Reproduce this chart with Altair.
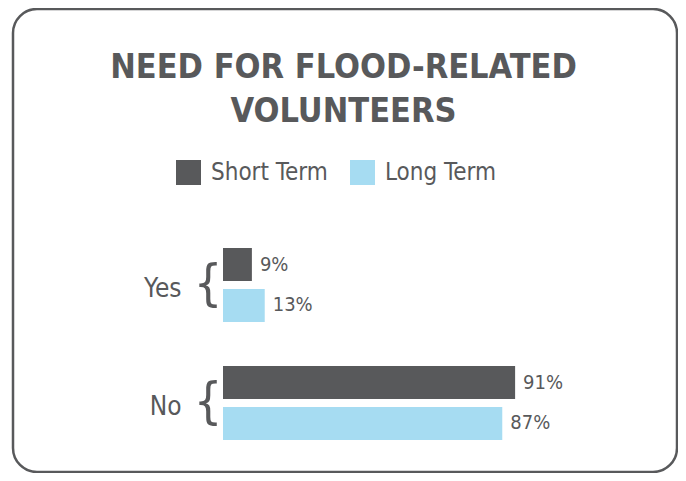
import altair as alt
import pandas as pd

categories = ["Yes", "No"]
series = ["Short Term", "Long Term"]
short_term = [9, 91]
long_term = [13, 87]
colors = ["#58595b", "#a6dcf2"]
title_lines = ["NEED FOR FLOOD-RELATED", "VOLUNTEERS"]

rows = []
for i, c in enumerate(categories):
    rows.append({"category": c, "series": series[0], "value": short_term[i], "label": f"{short_term[i]}%"})
    rows.append({"category": c, "series": series[1], "value": long_term[i], "label": f"{long_term[i]}%"})
df = pd.DataFrame(rows)
cat_df = pd.DataFrame({"category": categories, "brace": ["{", "{"]})

FONT = "DejaVu Sans Condensed, Liberation Sans"
GRAY = "#58595b"

y_enc = alt.Y("category:N", sort=categories,
              scale=alt.Scale(paddingInner=0.373, paddingOuter=0.1865),
              axis=alt.Axis(title=None, domain=False, ticks=False, labelPadding=42,
                            labelOffset=4,
                            labelFontSize=26, labelFont=FONT, labelColor=GRAY))
yoff = alt.YOffset("series:N", sort=series, scale=alt.Scale(paddingInner=0.195, paddingOuter=0))

bars = alt.Chart(df).mark_bar().encode(
    x=alt.X("value:Q", scale=alt.Scale(domain=[0, 100]), axis=None),
    y=y_enc,
    yOffset=yoff,
    color=alt.Color("series:N", sort=series,
                    scale=alt.Scale(domain=series, range=colors),
                    legend=alt.Legend(title=None, orient="none", legendX=-47, legendY=-66,
                                      direction="horizontal", symbolType="square",
                                      symbolSize=625, symbolStrokeWidth=0,
                                      labelFontSize=24, labelFont=FONT, labelColor=GRAY,
                                      labelOffset=10, columnPadding=22)),
)

labels = alt.Chart(df).mark_text(align="left", baseline="middle", dx=8, fontSize=20,
                                 font=FONT, color=GRAY).encode(
    x=alt.X("value:Q"),
    y=alt.Y("category:N", sort=categories),
    yOffset=alt.YOffset("series:N", sort=series),
    text="label:N",
)

braces = alt.Chart(cat_df).mark_text(align="center", baseline="middle", fontSize=50,
                                     font=FONT, color=GRAY).encode(
    x=alt.value(-15),
    y=alt.Y("category:N", sort=categories),
    text="brace:N",
)

frame = alt.Chart(pd.DataFrame({"a": [0]})).mark_rect(
    fillOpacity=0, stroke=GRAY, strokeWidth=2.5, cornerRadius=24
).encode(x=alt.value(-210), x2=alt.value(454), y=alt.value(-217), y2=alt.value(246))

chart = alt.layer(frame, bars, labels, braces).properties(
    width=321, height=236,
    padding={"left": 215, "top": 218, "right": 134, "bottom": 11},
    autosize=alt.AutoSizeParams(type="none"),
    background="white",
    title=alt.TitleParams(text=title_lines, anchor="middle", dx=-40, fontSize=34,
                          font=FONT, fontWeight="bold", color=GRAY, lineHeight=44,
                          offset=-121),
).configure_view(strokeWidth=0)

chart.save("out.html", embed_options={"renderer": "svg", "actions": False})
